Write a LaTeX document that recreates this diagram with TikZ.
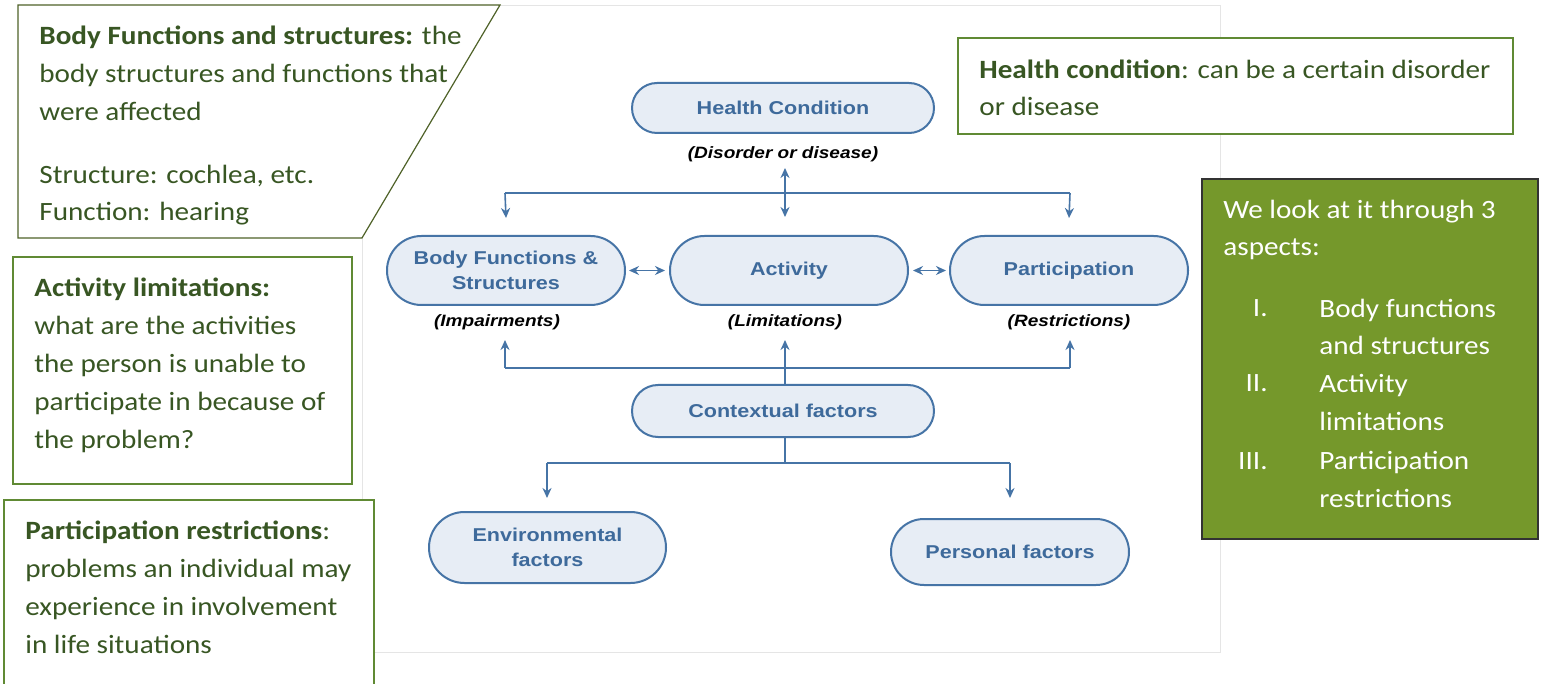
\documentclass[tikz,border=0pt]{standalone}
\usepackage{fontspec}
\setmainfont{Carlito}[FakeStretch=1.105]
\newfontfamily\arialf{Liberation Sans}[FakeStretch=1.16]
\usetikzlibrary{arrows.meta,calc,shapes.misc}
\definecolor{txtgreen}{RGB}{56,86,35}
\definecolor{boxgreen}{RGB}{96,138,52}
\definecolor{calloutline}{RGB}{79,98,40}
\definecolor{olivefill}{RGB}{117,152,43}
\definecolor{pillfill}{RGB}{231,237,245}
\definecolor{pillline}{RGB}{70,116,166}
\definecolor{pilltext}{RGB}{62,106,155}
\begin{document}
\begin{tikzpicture}[x=0.5pt,y=-0.5pt,
  pill/.style={rounded rectangle, draw=pillline, line width=1pt, fill=pillfill, text=pilltext,
    font=\arialf\bfseries\fontsize{9.3}{12.5}\selectfont, align=center, inner sep=0pt},
  lab/.style={font=\arialf\bfseries\itshape\fontsize{8.2}{10}\selectfont, text=black, inner sep=0pt},
  conn/.style={draw=pillline, line width=0.8pt},
  tip/.style={-{Stealth[length=5pt,width=4.5pt]}},
  dtip/.style={{Stealth[length=5pt,width=4.5pt]}-{Stealth[length=5pt,width=4.5pt]}},
  gtext/.style={text=txtgreen, font=\fontsize{13.2}{18.9}\selectfont, align=left, inner sep=0pt},
  wtext/.style={text=white, font=\fontsize{13.2}{18.9}\selectfont, align=left, inner sep=0pt},
  boxline/.style={draw=boxgreen, line width=0.6pt, fill=white}]
\useasboundingbox (0,0) rectangle (1543,684);
% diagram background
\draw[draw=black!10, fill=white] (362,5) rectangle (1220,652);
% pills
\node[pill, minimum width=151pt, minimum height=25pt] (hc) at (783,108) {Health Condition};
\node[lab] (hclab) at (783,154) {(Disorder or disease)};
\node[pill, minimum width=119pt, minimum height=34.5pt] (bfs) at (506,270.5) {Body Functions \&\\Structures};
\node[pill, minimum width=119pt, minimum height=34.5pt] (act) at (789,270.5) {Activity};
\node[pill, minimum width=119pt, minimum height=34.5pt] (par) at (1069,270.5) {Participation};
\node[lab] (bfslab) at (497,322) {(Impairments)};
\node[lab] (actlab) at (785,322) {(Limitations)};
\node[lab] (parlab) at (1069,322) {(Restrictions)};
\node[pill, minimum width=151pt, minimum height=26pt] (ctx) at (783,411) {Contextual factors};
\node[pill, minimum width=118.5pt, minimum height=35.5pt] (env) at (547.5,547.5) {Environmental\\factors};
\node[pill, minimum width=119pt, minimum height=33pt] (per) at (1010,552) {Personal factors};
% upper bus
\coordinate (busL) at (505,193);
\coordinate (busR) at (1070,193);
\coordinate (hcA) at (785,168);
\coordinate (hcB) at (785,217);
\draw[conn] (busL) -- (busR);
\draw[conn,tip] (busL) -- (bfs.north |- 0,218);
\draw[conn,tip] (busR) -- (par.north |- 0,218);
\draw[conn,dtip] (hcA) -- (hcB);
% horizontal links
\draw[conn,dtip,shorten <=1.5pt,shorten >=2pt] (bfs.east) -- (act.west);
\draw[conn,dtip,shorten <=2pt,shorten >=1.5pt] (act.east) -- (par.west);
% lower bus
\coordinate (lbL) at (505,368);
\coordinate (lbR) at (1070,368);
\coordinate (lbC) at (785,368);
\draw[conn] (lbL) -- (lbR);
\draw[conn,tip] (lbL) -- (505,340);
\draw[conn,tip] (lbR) -- (1070,340);
\draw[conn,tip] (ctx.north -| lbC) -- (785,340);
% contextual tree
\coordinate (cbC) at (785,463);
\coordinate (cbL) at (547,463);
\coordinate (cbR) at (1010,463);
\draw[conn] (ctx.south -| cbC) -- (cbC);
\draw[conn] (cbL) -- (cbR);
\draw[conn,tip] (cbL) -- (547,498);
\draw[conn,tip] (cbR) -- (1010,498);
% callouts
\draw[draw=calloutline, line width=0.6pt, fill=white] (18,5) -- (500,5) -- (362,238) -- (18,238) -- cycle;
\node[gtext, anchor=base west] (t1) at (39,221) {\textbf{Body Functions and structures:} the\\body structures and functions that\\were affected\\[12.5pt]Structure: cochlea, etc.\\Function: hearing};
\draw[boxline] (13,257) rectangle (352,484);
\node[gtext, anchor=base west] (t2) at (34,448) {\textbf{Activity limitations:}\\what are the activities\\the person is unable to\\participate in because of\\the problem?};
\draw[boxline] (4,700) -- (4,500) -- (374,500) -- (374,700);
\node[gtext, anchor=base west] (t3) at (25,653) {\textbf{Participation restrictions}:\\problems an individual may\\experience in involvement\\in life situations};
\draw[boxline] (958,38) rectangle (1513,134);
\node[gtext, anchor=base west] (t4) at (979,116) {\textbf{Health condition}: can be a certain disorder\\or disease};
\draw[draw=black!80, line width=0.6pt, fill=olivefill] (1202,179) rectangle (1538,539);
\node[wtext, anchor=base west] (t5) at (1223,256) {We look at it through 3\\aspects:};
\node[wtext, anchor=base east] (n1) at (1268,317) {I.};
\node[wtext, anchor=base east] (n2) at (1268,392) {II.};
\node[wtext, anchor=base east] (n3) at (1268,469) {III.};
\node[wtext, anchor=base west] (i1) at (1319,355) {Body functions\\and structures};
\node[wtext, anchor=base west] (i2) at (1319,430) {Activity\\limitations};
\node[wtext, anchor=base west] (i3) at (1319,507) {Participation\\restrictions};
\end{tikzpicture}
\end{document}
